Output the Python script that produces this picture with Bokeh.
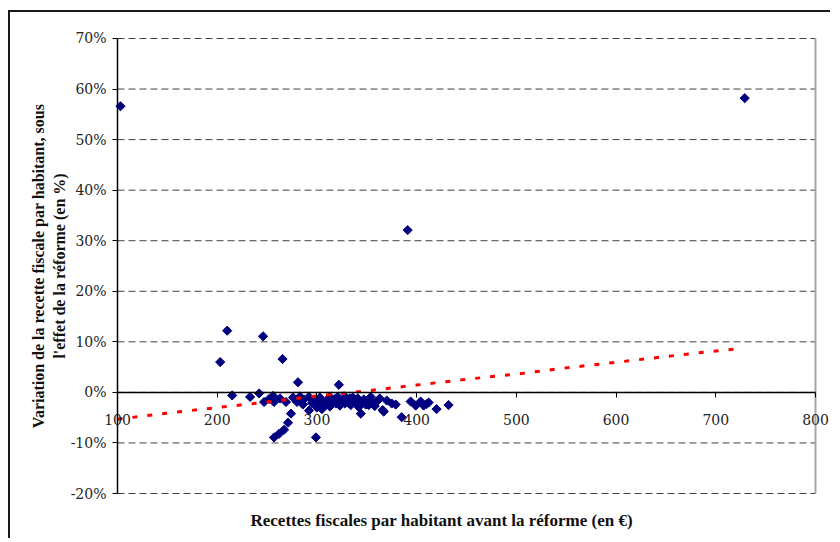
from bokeh.plotting import figure
from bokeh.models import Range1d, FixedTicker, PrintfTickFormatter, Title
from bokeh.embed import file_html
from bokeh.resources import INLINE
import math

# ---- data ----
recettes = [103, 729, 391, 210, 246, 203, 265.5, 281, 322, 215, 233, 242,
            257, 262, 267, 271, 274, 299,
            247, 252, 256, 257, 263, 269, 276, 280, 283, 287, 292, 292, 297, 300,
            303, 306, 309, 313, 313, 316, 318, 321, 323, 326, 328, 331, 333, 336,
            339, 342, 344, 347, 349, 351, 354, 356, 358, 360, 363, 366, 367, 370,
            375, 379, 385, 394, 399, 404, 407, 410, 412, 420, 432,
            311, 319, 325, 329, 334, 338, 341, 345, 352, 286, 295, 302, 305]
variation = [56.6, 58.2, 32.1, 12.2, 11.1, 6.0, 6.6, 2.0, 1.5, -0.6, -0.9, -0.2,
             -8.9, -8.2, -7.4, -6.0, -4.2, -8.9,
             -1.9, -1.3, -0.7, -1.9, -1.2, -1.9, -1.0, -1.9, -0.8, -1.4, -0.9, -3.6, -1.6, -3.0,
             -1.0, -1.9, -2.4, -0.9, -2.8, -1.9, -1.3, -0.9, -2.6, -1.4, -2.2, -2.0, -1.2, -1.0,
             -2.0, -2.9, -4.2, -1.4, -2.4, -1.7, -0.9, -2.0, -2.7, -1.8, -1.2, -3.5, -3.8, -1.6,
             -2.2, -2.4, -4.9, -1.8, -2.6, -1.8, -2.6, -2.3, -2.0, -3.3, -2.5,
             -1.5, -2.2, -1.8, -1.0, -2.5, -1.6, -1.2, -2.2, -2.5, -2.4, -2.1, -2.3, -3.3]

trend_x = [100, 150, 200, 250, 300, 350, 400, 450, 500, 550, 600, 650, 700, 720]
trend_y = [-5.3, -4.1, -3.0, -1.9, -0.7, 0.3, 1.45, 2.6, 3.6, 4.85, 5.95, 7.1, 8.2, 8.6]

x_min, x_max = 100, 800
y_min, y_max = -20, 70
x_ticks = [100, 200, 300, 400, 500, 600, 700, 800]
x_tick_labels = ["100", "200", "300", "400", "500", "600", "700", "800"]
y_ticks = [-20, -10, 0, 10, 20, 30, 40, 50, 60, 70]

FONT = "DejaVu Serif"
TFONT = "Liberation Serif"

# the frame spans the whole figure so that the axes drawn at x=100 / y=0 are never clipped
p = figure(width=822, height=528, output_backend="svg", toolbar_location=None,
           x_range=Range1d(-7.3, 817.05), y_range=Range1d(-22.37, 75.14),
           min_border_left=0, min_border_right=0, min_border_top=0, min_border_bottom=35)
p.styles = {"border-left": "2px solid #1a1a1a", "border-top": "2px solid #1a1a1a",
            "margin-left": "8px", "margin-top": "10px"}
p.outline_line_color = None
p.background_fill_color = "white"
p.border_fill_color = "white"
p.xgrid.grid_line_color = None
p.ygrid.grid_line_color = None

# horizontal dashed grid lines within the plot area
p.segment(x0=[x_min] * len(y_ticks), y0=y_ticks, x1=[x_max] * len(y_ticks), y1=y_ticks,
          line_color="#404040", line_dash="7 4", line_width=1)
# right border of the plot area
p.segment(x0=[x_max], y0=[y_min], x1=[x_max], y1=[y_max], line_color="#a6a6a6", line_width=2)

# y axis at x = 100
ya = p.yaxis[0]
ya.fixed_location = x_min
ya.bounds = (y_min, y_max)
ya.ticker = FixedTicker(ticks=y_ticks)
ya.formatter = PrintfTickFormatter(format="%d%%")
ya.major_tick_out = 5
ya.major_tick_in = 0
ya.minor_tick_out = 0
ya.minor_tick_in = 0
ya.axis_line_color = "black"
ya.axis_line_width = 1.5
ya.major_tick_line_color = "black"
ya.major_label_standoff = 6
ya.major_label_text_font = FONT
ya.major_label_text_font_size = "14px"
ya.major_label_text_color = "#222222"
ya.axis_label = "Variation de la recette fiscale par habitant, sous\nl'effet de la réforme (en %)"
ya.axis_label_text_font = TFONT
ya.axis_label_text_font_style = "bold"
ya.axis_label_text_font_size = "16px"
ya.axis_label_text_color = "#111111"
ya.axis_label_standoff = 0

# x axis at y = 0
xa = p.xaxis[0]
xa.fixed_location = 0
xa.bounds = (x_min, x_max)
xa.ticker = FixedTicker(ticks=x_ticks)
xa.major_label_overrides = {t: s for t, s in zip(x_ticks, x_tick_labels)}
xa.axis_line_color = "black"
xa.axis_line_width = 1.5
xa.major_tick_line_color = "black"
xa.major_tick_out = 5
xa.major_tick_in = 0
xa.minor_tick_out = 0
xa.minor_tick_in = 0
xa.major_label_standoff = 17
xa.major_label_text_font = FONT
xa.major_label_text_font_size = "14px"
xa.major_label_text_color = "#222222"

# x axis title
p.add_layout(Title(text="Recettes fiscales par habitant avant la réforme (en €)",
                   align="left", offset=240, standoff=7, text_font=TFONT, text_font_style="bold",
                   text_font_size="17px", text_color="#111111"), "below")

# points
p.scatter(recettes, variation, marker="square", angle=math.pi / 4, size=6.5,
          fill_color="#000080", line_color="#000080")

# trend line
p.line(trend_x, trend_y, line_color="red", line_width=3, line_dash="5 10")

open("out.html", "w").write(file_html(p, INLINE))
